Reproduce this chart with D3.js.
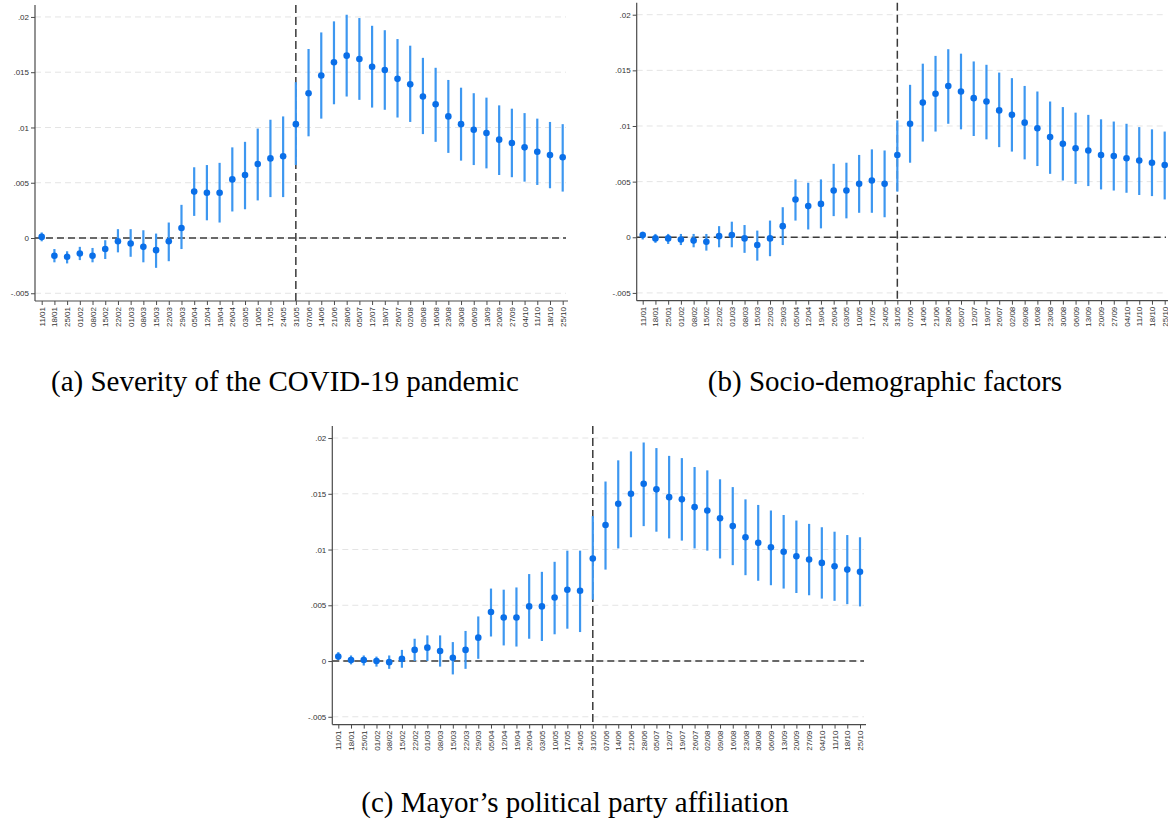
<!DOCTYPE html>
<html>
<head>
<meta charset="utf-8">
<script src="https://cdn.jsdelivr.net/npm/d3@7/dist/d3.min.js"></script>
<style>
  html, body { margin: 0; padding: 0; background: #fff; }
  svg { display: block; }
</style>
</head>
<body>
<svg id="chart" width="1168" height="822"></svg>
<script>
// ---------- DATA ----------
const weeks = ["11/01","18/01","25/01","01/02","08/02","15/02","22/02","01/03","08/03","15/03","22/03","29/03","05/04","12/04","19/04","26/04","03/05","10/05","17/05","24/05","31/05","07/06","14/06","21/06","28/06","05/07","12/07","19/07","26/07","02/08","09/08","16/08","23/08","30/08","06/09","13/09","20/09","27/09","04/10","11/10","18/10","25/10"];
const eventWeek = "31/05";

const yTickValues = [-0.005, 0, 0.005, 0.01, 0.015, 0.02];
const yTickLabels = ["-.005", "0", ".005", ".01", ".015", ".02"];

const captions = ["(a) Severity of the COVID-19 pandemic", "(b) Socio-demographic factors", "(c) Mayor\u2019s political party affiliation"];

// (a) Severity of the COVID-19 pandemic
const sevEst = [0.0001,-0.0016,-0.0017,-0.0014,-0.0016,-0.0010,-0.0003,-0.0005,-0.0008,-0.0011,-0.0003,0.0009,0.0042,0.0041,0.0041,0.0053,0.0057,0.0067,0.0072,0.0074,0.0103,0.0131,0.0147,0.0159,0.0165,0.0162,0.0155,0.0152,0.0144,0.0139,0.0128,0.0121,0.0110,0.0103,0.0098,0.0095,0.0089,0.0086,0.0082,0.0078,0.0075,0.0073];
const sevLo  = [-0.0003,-0.0022,-0.0023,-0.0020,-0.0022,-0.0019,-0.0013,-0.0017,-0.0022,-0.0027,-0.0021,-0.0010,0.0020,0.0016,0.0014,0.0024,0.0026,0.0034,0.0037,0.0037,0.0066,0.0092,0.0108,0.0121,0.0128,0.0125,0.0118,0.0116,0.0109,0.0105,0.0094,0.0087,0.0077,0.0070,0.0066,0.0063,0.0057,0.0055,0.0051,0.0048,0.0045,0.0042];
const sevHi  = [0.0005,-0.0010,-0.0012,-0.0008,-0.0009,-0.0002,0.0008,0.0008,0.0007,0.0004,0.0014,0.0030,0.0064,0.0066,0.0068,0.0082,0.0087,0.0099,0.0107,0.0110,0.0141,0.0171,0.0186,0.0196,0.0202,0.0199,0.0192,0.0188,0.0180,0.0174,0.0163,0.0154,0.0143,0.0136,0.0131,0.0127,0.0120,0.0117,0.0113,0.0108,0.0105,0.0103];

// (b) Socio-demographic factors
const socEst = [0.0002,-0.0001,-0.0001,-0.0002,-0.0003,-0.0004,0.0001,0.0002,-0.0001,-0.0007,-0.0001,0.0010,0.0034,0.0028,0.0030,0.0042,0.0042,0.0048,0.0051,0.0048,0.0074,0.0102,0.0121,0.0129,0.0136,0.0131,0.0125,0.0122,0.0114,0.0110,0.0103,0.0098,0.0090,0.0084,0.0080,0.0078,0.0074,0.0073,0.0071,0.0069,0.0067,0.0065];
const socLo  = [-0.0002,-0.0005,-0.0006,-0.0007,-0.0009,-0.0012,-0.0009,-0.0009,-0.0014,-0.0021,-0.0017,-0.0007,0.0015,0.0007,0.0008,0.0019,0.0017,0.0022,0.0022,0.0018,0.0041,0.0067,0.0086,0.0095,0.0102,0.0097,0.0091,0.0088,0.0081,0.0077,0.0070,0.0064,0.0057,0.0051,0.0048,0.0046,0.0043,0.0042,0.0040,0.0038,0.0037,0.0034];
const socHi  = [0.0005,0.0003,0.0003,0.0003,0.0003,0.0003,0.0010,0.0014,0.0011,0.0006,0.0015,0.0027,0.0052,0.0049,0.0052,0.0066,0.0067,0.0074,0.0079,0.0078,0.0105,0.0137,0.0156,0.0163,0.0169,0.0165,0.0158,0.0155,0.0148,0.0143,0.0136,0.0131,0.0122,0.0117,0.0112,0.0110,0.0106,0.0104,0.0102,0.0099,0.0097,0.0095];

// (c) Mayor's political party affiliation
const mayEst = [0.0004,0.0001,0.0001,0.0000,-0.0001,0.0002,0.0010,0.0012,0.0009,0.0003,0.0010,0.0021,0.0044,0.0039,0.0039,0.0049,0.0049,0.0057,0.0064,0.0063,0.0092,0.0122,0.0141,0.0150,0.0159,0.0154,0.0147,0.0145,0.0138,0.0135,0.0128,0.0121,0.0111,0.0106,0.0102,0.0098,0.0094,0.0091,0.0088,0.0085,0.0082,0.0080];
const mayLo  = [0.0001,-0.0003,-0.0004,-0.0005,-0.0007,-0.0006,0.0000,0.0000,-0.0005,-0.0012,-0.0007,0.0002,0.0022,0.0014,0.0013,0.0020,0.0018,0.0024,0.0029,0.0026,0.0055,0.0082,0.0101,0.0111,0.0121,0.0116,0.0110,0.0108,0.0101,0.0099,0.0092,0.0086,0.0077,0.0072,0.0068,0.0065,0.0061,0.0059,0.0056,0.0054,0.0051,0.0049];
const mayHi  = [0.0008,0.0005,0.0005,0.0004,0.0005,0.0010,0.0020,0.0023,0.0023,0.0017,0.0027,0.0040,0.0065,0.0064,0.0066,0.0078,0.0080,0.0089,0.0099,0.0099,0.0130,0.0161,0.0180,0.0188,0.0196,0.0191,0.0184,0.0182,0.0174,0.0171,0.0163,0.0156,0.0145,0.0140,0.0135,0.0131,0.0126,0.0123,0.0120,0.0116,0.0113,0.0111];

// ---------- LAYOUT ----------
const yDomain = [-0.0057, 0.0209];
const panels = [
  { est: sevEst, lo: sevLo, hi: sevHi, left: 35,  right: 568,  top: 7,   bottom: 301, first: 41.7,  last: 562.7, cap: captions[0], capX: 285, capY: 391 },
  { est: socEst, lo: socLo, hi: socHi, left: 636.7, right: 1168, top: 4.7, bottom: 300.7, first: 642.7, last: 1164.7, cap: captions[1], capX: 885, capY: 391 },
  { est: mayEst, lo: mayLo, hi: mayHi, left: 332.3, right: 866, top: 428, bottom: 724.6, first: 338.3, last: 860, cap: captions[2], capX: 575, capY: 812 }
];

const svg = d3.select("#chart");
const ptColor = "#0a6fe8";
const ciColor = "#3d97f0";
const axisColor = "#4a4a4a";

panels.forEach(p => {
  const g = svg.append("g");
  const x = d3.scalePoint().domain(weeks).range([p.first, p.last]);
  const y = d3.scaleLinear().domain(yDomain).range([p.bottom, p.top]);

  // grid
  g.selectAll(".grid").data(yTickValues).join("line")
    .attr("x1", p.left).attr("x2", p.right - 2)
    .attr("y1", d => y(d)).attr("y2", d => y(d))
    .attr("stroke", "#e4e4e4").attr("stroke-width", 1)
    .attr("stroke-dasharray", "6,4");

  // zero line
  g.append("line")
    .attr("x1", p.left).attr("x2", p.right - 2)
    .attr("y1", y(0)).attr("y2", y(0))
    .attr("stroke", "#3a3a3a").attr("stroke-width", 1.5)
    .attr("stroke-dasharray", "7,4");

  // event line
  g.append("line")
    .attr("x1", x(eventWeek)).attr("x2", x(eventWeek))
    .attr("y1", p.top - 2).attr("y2", p.bottom)
    .attr("stroke", "#3a3a3a").attr("stroke-width", 1.5)
    .attr("stroke-dasharray", "8,4");

  // CI
  g.selectAll(".ci").data(weeks).join("line")
    .attr("x1", d => x(d)).attr("x2", d => x(d))
    .attr("y1", (d, i) => y(p.lo[i])).attr("y2", (d, i) => y(p.hi[i]))
    .attr("stroke", ciColor).attr("stroke-width", 2.2);

  // points
  g.selectAll(".pt").data(weeks).join("circle")
    .attr("cx", d => x(d)).attr("cy", (d, i) => y(p.est[i]))
    .attr("r", 3.3).attr("fill", ptColor);

  // y axis
  const ya = g.append("g").attr("transform", `translate(${p.left},0)`)
    .call(d3.axisLeft(y).tickValues(yTickValues)
      .tickFormat((d, i) => yTickLabels[i]).tickSize(4).tickSizeOuter(0));
  ya.select(".domain").remove();
  ya.selectAll(".tick line").attr("stroke", axisColor);
  ya.selectAll(".tick text").attr("font-family", "Liberation Sans, Arial, sans-serif")
    .attr("font-size", 8).attr("fill", "#333").attr("x", -6);

  // x axis
  const xa = g.append("g").attr("transform", `translate(0,${p.bottom})`)
    .call(d3.axisBottom(x).tickSize(4).tickSizeOuter(0));
  xa.select(".domain").remove();
  xa.selectAll(".tick line").attr("stroke", axisColor);
  xa.selectAll(".tick text")
    .attr("font-family", "Liberation Sans, Arial, sans-serif")
    .attr("font-size", 8).attr("fill", "#333")
    .attr("transform", "rotate(-90)")
    .attr("text-anchor", "end")
    .attr("x", -6).attr("y", 0).attr("dy", "0.32em");

  // axis lines
  g.append("line").attr("x1", p.left).attr("x2", p.left)
    .attr("y1", p.top - 2).attr("y2", p.bottom)
    .attr("stroke", axisColor).attr("stroke-width", 1.2);
  g.append("line").attr("x1", p.left).attr("x2", p.right)
    .attr("y1", p.bottom).attr("y2", p.bottom)
    .attr("stroke", axisColor).attr("stroke-width", 1.2);

  // caption
  svg.append("text").attr("x", p.capX).attr("y", p.capY)
    .attr("text-anchor", "middle")
    .attr("font-family", "Liberation Serif, Times New Roman, serif")
    .attr("font-size", 29).attr("fill", "#000")
    .text(p.cap);
});
</script>
</body>
</html>
